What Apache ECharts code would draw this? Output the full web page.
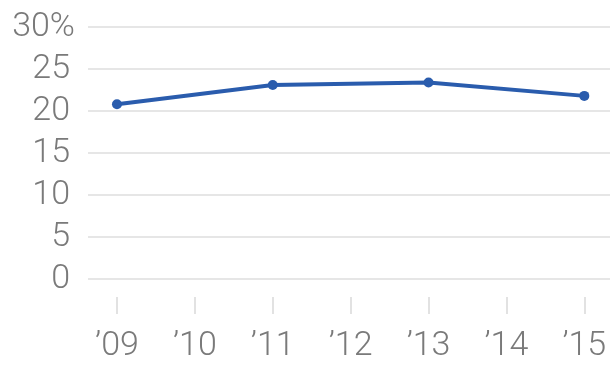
<!DOCTYPE html>
<html>
<head>
<meta charset="utf-8">
<script src="https://cdn.jsdelivr.net/npm/echarts@6/dist/echarts.min.js"></script>
<style>
  html, body { margin: 0; padding: 0; background: #fff; }
  #chart { width: 612px; height: 367px; }
</style>
</head>
<body>
<div id="chart"></div>
<script>
// Years on the x axis and the share (%) measured in each survey year
const years = [2009, 2010, 2011, 2012, 2013, 2014, 2015];
const surveyYears = [2009, 2011, 2013, 2015];
const shares = [20.8, 23.1, 23.4, 21.8];
const yTicks = [0, 5, 10, 15, 20, 25, 30];

const labelFont = {
  fontFamily: 'Roboto',
  fontWeight: 300,
  fontSize: 34,
  color: '#7a7a7a'
};

const chart = echarts.init(document.getElementById('chart'));
chart.setOption({
  animation: false,
  grid: { left: 88, right: 2, top: 27, bottom: 88, containLabel: false },
  xAxis: {
    type: 'value',
    min: 2008.628,
    max: 2015.33,
    axisLine: { show: false },
    splitLine: { show: false },
    // ticks sit a little below the zero line: the first part of each tick is a gap
    axisTick: {
      show: true,
      inside: false,
      length: 35,
      customValues: years,
      lineStyle: { color: '#e2e2e2', width: 2, type: [17, 18], dashOffset: 17 }
    },
    axisLabel: Object.assign({
      customValues: years,
      margin: 50,
      formatter: v => '\u2019' + String(v).slice(2)
    }, labelFont)
  },
  yAxis: {
    type: 'value',
    min: 0,
    max: 30,
    interval: 5,
    axisLine: { show: false },
    axisTick: { show: false },
    splitLine: { lineStyle: { color: '#e6e6e6', width: 2 } },
    axisLabel: Object.assign({
      margin: 13,
      formatter: v => v === yTicks[yTicks.length - 1] ? '{top|' + v + '%}' : '{n|' + v + '}',
      rich: {
        top: Object.assign({}, labelFont),
        n: Object.assign({ padding: [0, 5, 0, 0] }, labelFont)
      }
    }, labelFont)
  },
  series: [{
    type: 'line',
    data: surveyYears.map((y, i) => [y, shares[i]]),
    symbol: 'circle',
    symbolSize: 10,
    lineStyle: { color: '#2a5cad', width: 4 },
    itemStyle: { color: '#2a5cad' }
  }]
});
</script>
</body>
</html>
